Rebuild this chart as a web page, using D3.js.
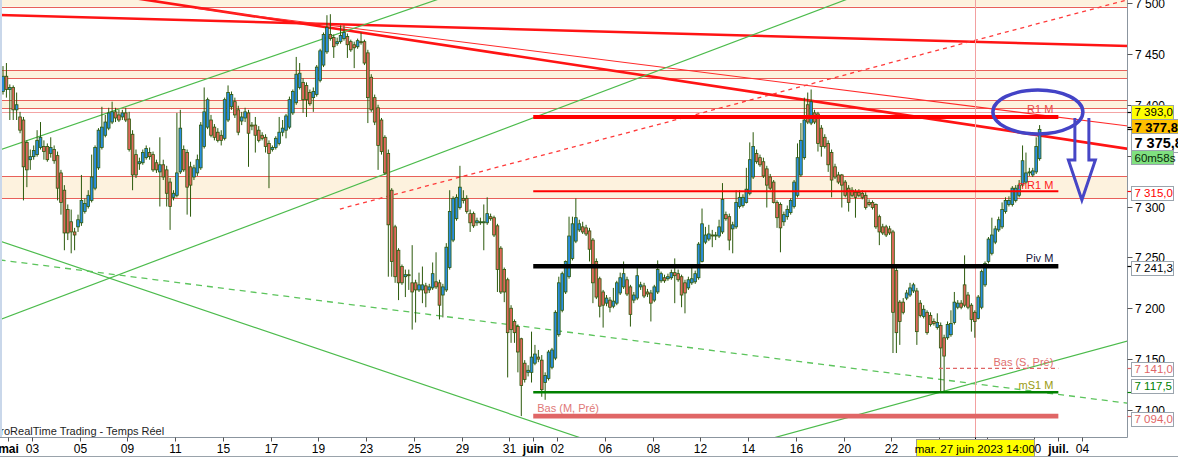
<!DOCTYPE html>
<html><head><meta charset="utf-8">
<script src="https://cdn.jsdelivr.net/npm/d3@7/dist/d3.min.js"></script>
<style>
html,body{margin:0;padding:0;background:#fff;overflow:hidden}
svg{display:block;font-family:"Liberation Sans",Arial,sans-serif}
</style></head><body>
<svg id="chart" width="1178" height="457"></svg>
<script>
// ---------- DATA ----------
// bars: [open, high, low, close]
const ohlc = [
[7413,7438,7410,7428],[7428,7441,7407,7415],[7415,7420,7385,7417],[7417,7419,7385,7395],[7395,7412,7385,7400],
[7388,7393,7372,7375],[7385,7388,7306,7339],[7363,7365,7319,7336],[7346,7356,7336,7349],[7349,7360,7346,7355],
[7351,7375,7349,7365],[7358,7383,7356,7368],[7359,7365,7346,7354],[7359,7362,7344,7346],[7352,7368,7348,7358],
[7356,7360,7342,7345],[7350,7354,7306,7318],[7333,7336,7292,7304],[7316,7321,7257,7274],[7297,7302,7267,7274],
[7285,7297,7254,7275],[7275,7279,7257,7272],[7280,7292,7275,7287],[7284,7331,7281,7306],[7295,7308,7293,7303],
[7300,7316,7298,7311],[7306,7351,7304,7329],[7318,7360,7316,7358],[7338,7377,7336,7375],[7358,7398,7356,7378],
[7370,7390,7368,7383],[7377,7397,7375,7392],[7383,7403,7381,7393],[7393,7397,7383,7387],[7390,7395,7383,7385],
[7388,7395,7385,7392],[7392,7397,7383,7385],[7386,7393,7354,7356],[7371,7375,7316,7331],[7351,7356,7328,7331],
[7342,7348,7336,7344],[7343,7356,7341,7353],[7348,7360,7346,7357],[7353,7358,7346,7349],[7351,7354,7334,7336],
[7343,7346,7333,7336],[7334,7368,7300,7341],[7341,7346,7326,7329],[7336,7340,7300,7313],[7324,7328,7277,7300],
[7309,7316,7306,7313],[7311,7392,7309,7333],[7334,7395,7332,7377],[7356,7360,7334,7336],[7353,7356,7292,7319],
[7339,7344,7290,7321],[7329,7341,7326,7338],[7333,7351,7330,7346],[7338,7383,7336,7380],[7359,7417,7357,7393],
[7378,7407,7376,7405],[7385,7390,7368,7370],[7378,7381,7365,7368],[7373,7377,7363,7365],[7370,7375,7360,7365],
[7367,7407,7365,7405],[7385,7419,7383,7412],[7398,7413,7395,7410],[7403,7407,7387,7390],[7395,7399,7370,7373],
[7384,7393,7380,7388],[7387,7397,7383,7393],[7392,7395,7339,7372],[7380,7383,7375,7379],[7380,7388,7353,7370],
[7375,7379,7363,7365],[7370,7373,7365,7367],[7368,7371,7353,7359],[7362,7365,7318,7352],[7356,7360,7354,7358],
[7358,7369,7356,7367],[7362,7388,7360,7373],[7373,7385,7369,7377],[7375,7391,7367,7389],[7378,7408,7376,7405],
[7392,7415,7390,7413],[7402,7447,7400,7430],[7417,7441,7415,7431],[7422,7426,7392,7405],[7419,7422,7388,7405],
[7412,7415,7399,7401],[7407,7417,7393,7413],[7410,7439,7408,7437],[7424,7455,7422,7453],[7439,7471,7437,7469],
[7452,7488,7450,7476],[7469,7489,7463,7465],[7466,7469,7446,7457],[7460,7466,7458,7462],[7462,7478,7460,7468],
[7465,7478,7463,7471],[7467,7470,7446,7459],[7462,7464,7452,7454],[7459,7462,7436,7456],[7457,7465,7455,7463],
[7462,7471,7459,7461],[7462,7464,7439,7441],[7451,7454,7382,7407],[7427,7430,7393,7395],[7407,7410,7380,7383],
[7397,7400,7336,7360],[7385,7387,7351,7354],[7368,7370,7331,7333],[7352,7356,7231,7282],[7316,7318,7231,7246],
[7280,7282,7225,7231],[7257,7259,7208,7225],[7241,7243,7223,7225],[7231,7238,7211,7233],[7233,7238,7218,7232],
[7225,7262,7179,7216],[7225,7228,7186,7218],[7218,7235,7216,7223],[7218,7241,7205,7223],[7222,7225,7201,7215],
[7218,7224,7215,7221],[7220,7245,7218,7234],[7226,7255,7219,7221],[7225,7228,7189,7203],[7213,7224,7191,7221],
[7218,7264,7216,7260],[7240,7316,7238,7295],[7267,7310,7265,7308],[7288,7312,7286,7309],[7299,7340,7297,7319],
[7308,7316,7303,7306],[7308,7311,7293,7295],[7293,7297,7275,7284],[7293,7295,7279,7281],[7284,7289,7281,7286],
[7285,7289,7282,7285],[7284,7302,7257,7285],[7284,7309,7282,7293],[7290,7293,7286,7288],[7289,7291,7270,7272],
[7281,7283,7216,7238],[7259,7261,7214,7216],[7238,7240,7206,7216],[7228,7230,7132,7176],[7200,7203,7166,7179],
[7187,7189,7166,7176],[7182,7184,7137,7157],[7170,7171,7094,7124],[7146,7149,7127,7130],[7137,7144,7133,7139],
[7137,7177,7127,7152],[7146,7164,7144,7155],[7152,7159,7147,7150],[7149,7154,7113,7120],[7127,7137,7110,7134],
[7131,7159,7129,7157],[7142,7161,7140,7159],[7151,7198,7149,7196],[7174,7231,7172,7225],[7198,7236,7196,7234],
[7216,7247,7214,7246],[7231,7290,7229,7271],[7249,7290,7247,7283],[7266,7308,7264,7289],[7277,7287,7275,7283],
[7280,7285,7273,7275],[7279,7282,7271,7273],[7276,7279,7246,7258],[7267,7269,7205,7225],[7246,7249,7209,7211],
[7229,7231,7191,7202],[7216,7218,7181,7203],[7205,7213,7202,7210],[7208,7211,7196,7201],[7202,7220,7200,7207],
[7205,7227,7203,7225],[7215,7235,7213,7230],[7221,7246,7219,7234],[7228,7231,7212,7214],[7221,7223,7182,7194],
[7208,7216,7205,7213],[7210,7240,7208,7232],[7221,7226,7218,7223],[7222,7225,7210,7212],[7216,7219,7211,7214],
[7215,7218,7187,7205],[7208,7223,7206,7221],[7216,7247,7214,7238],[7227,7236,7225,7234],[7230,7233,7225,7227],
[7229,7234,7227,7231],[7230,7238,7228,7235],[7235,7249,7205,7232],[7234,7238,7226,7228],[7231,7233,7201,7213],
[7225,7228,7195,7215],[7220,7231,7218,7228],[7225,7240,7223,7229],[7226,7237,7224,7234],[7230,7265,7228,7263],
[7246,7298,7245,7283],[7265,7280,7263,7272],[7268,7282,7266,7273],[7272,7277,7260,7271],[7271,7275,7267,7272],
[7271,7287,7269,7280],[7275,7323,7273,7307],[7292,7295,7286,7288],[7290,7293,7257,7267],[7278,7285,7254,7282],
[7280,7316,7278,7304],[7300,7316,7298,7309],[7301,7312,7299,7309],[7304,7338,7303,7317],[7313,7363,7311,7346],
[7329,7373,7327,7359],[7352,7356,7342,7344],[7348,7351,7339,7341],[7344,7348,7328,7330],[7337,7340,7299,7321],
[7329,7332,7316,7318],[7324,7326,7303,7304],[7304,7306,7279,7289],[7302,7304,7255,7279],[7285,7295,7281,7292],
[7290,7301,7287,7297],[7294,7308,7292,7306],[7300,7326,7298,7324],[7311,7362,7309,7348],[7331,7382,7329,7365],
[7348,7407,7346,7385],[7400,7412,7381,7383],[7382,7415,7380,7403],[7392,7395,7381,7383],[7391,7393,7354,7362],
[7377,7380,7349,7359],[7368,7371,7357,7359],[7362,7365,7334,7341],[7353,7356,7309,7326],[7339,7342,7327,7329],
[7331,7334,7322,7324],[7331,7332,7299,7321],[7324,7326,7309,7311],[7318,7321,7295,7304],[7316,7319,7309,7311],
[7314,7317,7289,7309],[7314,7317,7309,7311],[7313,7316,7307,7309],[7311,7314,7297,7299],[7304,7307,7300,7302],
[7304,7306,7297,7299],[7302,7303,7278,7280],[7290,7292,7262,7275],[7280,7283,7272,7274],[7280,7282,7270,7272],
[7278,7281,7272,7274],[7275,7277,7156,7196],[7237,7240,7156,7176],[7206,7208,7164,7187],[7206,7210,7194,7196],
[7210,7218,7208,7215],[7213,7225,7211,7220],[7217,7225,7215,7223],[7217,7220,7164,7177],[7205,7208,7191,7193],
[7192,7203,7190,7199],[7196,7198,7174,7176],[7193,7196,7182,7184],[7187,7190,7183,7185],[7181,7195,7179,7186],
[7183,7186,7117,7161],[7171,7174,7117,7153],[7171,7187,7169,7184],[7174,7198,7172,7185],[7186,7216,7184,7206],
[7201,7208,7199,7205],[7205,7208,7199,7201],[7223,7252,7201,7203],[7213,7216,7199,7201],[7203,7205,7177,7189],
[7196,7198,7171,7187],[7190,7213,7189,7211],[7201,7238,7199,7236],[7223,7246,7221,7244],[7246,7270,7244,7268],
[7254,7289,7252,7272],[7265,7281,7263,7278],[7277,7290,7275,7287],[7280,7304,7278,7297],[7295,7309,7293,7306],
[7302,7310,7300,7306],[7302,7320,7300,7318],[7306,7321,7304,7318],[7311,7326,7309,7321],[7321,7360,7319,7345],
[7324,7353,7322,7333],[7333,7338,7330,7334],[7331,7338,7329,7335],[7334,7368,7332,7359],[7347,7380,7345,7375.8]
];
const priceTicks = [7100,7150,7200,7250,7300,7350,7400,7450,7500];
const dayTickBars = [2,9,23,37,51,65,79,93,107,121,135,149,156,163,177,191,205,219,233,247,261,275,289,303,310,317];
const dayTickLabels = ["mai","03","05","09","11","15","17","19","23","25","29","31","juin","02","06","08","12","14","16","20","22","26","28","30","juil.","04"];
const monthLabels = ["mai","juin","juil."];
// shaded zones (top, bottom) and their border lines
const zoneTops = [7515,7433.9,7404.7,7329.7];
const zoneBottoms = [7496.4,7426.0,7396.5,7308.1];
const zoneLineValues = [7496.4,7433.9,7426.0,7404.7,7396.5,7392.6,7329.7,7308.1];
// monthly pivot levels
const levelNames = ["R1 M","mR1 M","Piv M","Bas (S, Pré)","mS1 M","Bas (M, Pré)"];
const levelValues = [7388.0,7315.0,7241.3,7141.0,7117.5,7094.0];
const levelStartBars = [156,156,156,275,156,156];
const levelEndBars = [310,310,310,310,310,310];
// trend lines: [bar, price] start / end
const trendStarts = [[-1,7488.2],[0,7524.4],[56.3,7494.8],[-1,7355.4],[-1,7188.7],[-1,7266.2],[-1,7247.5],[215,7062.5],[98.8,7297.5]];
const trendEnds   = [[330,7457.7],[330,7356.6],[330,7379.1],[135,7512.2],[260,7519.5],[170,7071.9],[330,7106.6],[330,7168.1],[330,7503.3]];
// right-hand price tags
const tagTexts  = ["7 393,0","7 377,8","7 375,8","60m58s","7 315,0","7 241,3","7 141,0","7 117,5","7 094,0"];
const tagValues = [7393.0,7377.8,7375.8,7375.8,7315.0,7241.3,7141.0,7117.5,7094.0];
const cursorBar = 285;
const cursorLabel = "mar. 27 juin 2023 14:00";
const ellipseBars = [290.3,316.7], ellipsePrices = [7414.5,7371.3];
const arrowBar = 316.4, arrowPrices = [7387,7345.7,7306.4];
const footerText = "ProRealTime Trading - Temps Réel";

// ---------- STYLES ----------
const trendStyles = [
  {c:"#ff1414",w:2.6},{c:"#ff1414",w:2.6},{c:"#ff2a2a",w:1.1},
  {c:"#4cbb4c",w:1.2},{c:"#4cbb4c",w:1.2},{c:"#4cbb4c",w:1.2},
  {c:"#5cc45c",w:1.3,d:"6,5"},{c:"#4cbb4c",w:1.2},{c:"#ff3a3a",w:1.3,d:"4,4"}
];
const levelStyles = [
  {c:"#ff0000",w:4,t:"#e84a4a",a:"end"},
  {c:"#ff0000",w:2.2,t:"#ff2020",a:"end"},
  {c:"#000000",w:4.5,t:"#14143a",a:"end"},
  {c:"#e06666",w:1.2,t:"#e07070",a:"end",d:"4,3"},
  {c:"#008000",w:2.6,t:"#9a9a10",a:"end"},
  {c:"#e06666",w:4.6,t:"#e07878",a:"start"}
];
const tagStyles = [
  {f:"#ffff00",t:"#000",dy:0,fs:11.5,b:false,w:42,h:14},
  {f:"#ffc000",t:"#000",dy:0,fs:13,b:true,w:60,h:17},
  {f:"#ffffff",t:"#000",dy:13,fs:14.5,b:true,w:60,h:19},
  {f:"#80e080",t:"#0a2a0a",dy:28,fs:11.5,b:false,w:42,h:14},
  {f:"#ffffff",t:"#ff0000",dy:1.5,fs:11.5,b:false,w:42,h:14},
  {f:"#ffffff",t:"#000000",dy:1.5,fs:11.5,b:false,w:42,h:14},
  {f:"#ffffff",t:"#e06666",dy:1,fs:11.5,b:false,w:42,h:14},
  {f:"#ffffff",t:"#008000",dy:-6.5,fs:11.5,b:false,w:42,h:14},
  {f:"#ffffff",t:"#e06666",dy:2.5,fs:11.5,b:false,w:42,h:14}
];

// ---------- CHART ----------
const svg = d3.select("#chart");
const PR = 1127.5, PB = 437.5;
const x = d3.scaleLinear().domain([0, ohlc.length - 1]).range([3, 1039.6]);
const y = d3.scaleLinear().domain([7100, 7500]).range([410, 3]);
const xt = b => x(b - 0.5);

const defs = svg.append("defs");
defs.append("clipPath").attr("id","clip")
  .append("rect").attr("x",0).attr("y",0).attr("width",PR).attr("height",PB);
const plot = svg.append("g").attr("clip-path","url(#clip)");

// zones
plot.selectAll("rect.zone").data(zoneTops).join("rect").attr("class","zone")
  .attr("x",0).attr("width",PR)
  .attr("y",(d,i)=>y(d)).attr("height",(d,i)=>y(zoneBottoms[i])-y(d))
  .attr("fill","#fdf2de");
plot.selectAll("line.zl").data(zoneLineValues).join("line").attr("class","zl")
  .attr("x1",0).attr("x2",PR)
  .attr("y1",d=>Math.round(y(d))+0.5).attr("y2",d=>Math.round(y(d))+0.5)
  .attr("stroke",d=>d===7392.6?"#f4a4a4":"#e8605a").attr("stroke-width",1);

// trend lines
plot.selectAll("line.tr").data(trendStarts).join("line").attr("class","tr")
  .attr("x1",d=>x(d[0])).attr("y1",d=>y(d[1]))
  .attr("x2",(d,i)=>x(trendEnds[i][0])).attr("y2",(d,i)=>y(trendEnds[i][1]))
  .attr("stroke",(d,i)=>trendStyles[i].c).attr("stroke-width",(d,i)=>trendStyles[i].w)
  .attr("stroke-dasharray",(d,i)=>trendStyles[i].d||null);

// cursor
plot.append("line").attr("x1",Math.round(x(cursorBar))+0.5).attr("x2",Math.round(x(cursorBar))+0.5)
  .attr("y1",0).attr("y2",PB).attr("stroke","#f2a0a0").attr("stroke-width",1);

// candles
const gC = plot.append("g");
gC.selectAll("line.wk").data(ohlc).join("line").attr("class","wk")
  .attr("x1",(d,i)=>x(i)).attr("x2",(d,i)=>x(i))
  .attr("y1",d=>y(Math.max(d[1],d[0],d[3]))).attr("y2",d=>y(Math.min(d[2],d[0],d[3])))
  .attr("stroke","#2c5a0c").attr("stroke-width",1);
gC.selectAll("rect.bd").data(ohlc).join("rect").attr("class","bd")
  .attr("x",(d,i)=>x(i)-1.35).attr("width",2.7)
  .attr("y",d=>y(Math.max(d[0],d[3])))
  .attr("height",d=>Math.max(1,Math.abs(y(d[0])-y(d[3]))))
  .attr("fill",d=>d[3]>=d[0]?"#2a8ee0":"#e0685c")
  .attr("stroke","#2c5a0c").attr("stroke-width",0.8);

// levels
const gL = plot.append("g");
levelValues.forEach((v,i)=>{
  const s = levelStyles[i], yy = y(v);
  gL.append("line").attr("x1",xt(levelStartBars[i])).attr("x2",xt(levelEndBars[i]))
    .attr("y1",yy).attr("y2",yy).attr("stroke",s.c).attr("stroke-width",s.w)
    .attr("stroke-dasharray",s.d||null);
  gL.append("text").attr("x", s.a==="end" ? xt(levelEndBars[i])-5 : xt(levelStartBars[i])+4)
    .attr("y", yy - s.w/2 - 1.5).attr("text-anchor",s.a)
    .attr("font-size",11).attr("fill",s.t).text(levelNames[i]);
});

// annotation ellipse + arrow
const ex0 = x(ellipseBars[0]), ex1 = x(ellipseBars[1]), ey0 = y(ellipsePrices[0]), ey1 = y(ellipsePrices[1]);
plot.append("ellipse").attr("cx",(ex0+ex1)/2).attr("cy",(ey0+ey1)/2)
  .attr("rx",(ex1-ex0)/2).attr("ry",(ey1-ey0)/2)
  .attr("fill","none").attr("stroke","#4343c6").attr("stroke-width",3.5);
const ax = x(arrowBar), aT = y(arrowPrices[0]), aB = y(arrowPrices[1]), aTip = y(arrowPrices[2]);
plot.append("path")
  .attr("d",`M${ax-7},${aT} L${ax-7},${aB} L${ax-13.5},${aB} L${ax},${aTip} L${ax+13.5},${aB} L${ax+7},${aB} L${ax+7},${aT}`)
  .attr("fill","none").attr("stroke","#4646c6").attr("stroke-width",3).attr("stroke-linejoin","miter");

// footer text
svg.append("text").attr("x",-7).attr("y",435).attr("font-size",11).attr("fill","#1e1e1e").text(footerText);

// frame
svg.append("rect").attr("x",0).attr("y",0).attr("width",2).attr("height",PB).attr("fill","#c9d7ea");
svg.append("line").attr("x1",0).attr("x2",PR).attr("y1",PB).attr("y2",PB).attr("stroke","#8b959f");
svg.append("line").attr("x1",PR).attr("x2",PR).attr("y1",0).attr("y2",PB).attr("stroke","#8b959f");
svg.append("line").attr("x1",0).attr("x2",1178).attr("y1",456.5).attr("y2",456.5).attr("stroke","#9aa3ab");

// right axis
const fmt = v => `${Math.floor(v/1000)} ${String(v%1000).padStart(3,"0")}`;
const gY = svg.append("g");
priceTicks.forEach(v=>{
  const yy = Math.round(y(v))+0.5;
  gY.append("line").attr("x1",PR).attr("x2",PR+5).attr("y1",yy).attr("y2",yy).attr("stroke","#555");
  gY.append("text").attr("x",1135).attr("y",yy+4.5).attr("font-size",12).attr("fill","#000").text(fmt(v));
});

// price tags
tagTexts.forEach((t,i)=>{
  const s = tagStyles[i], yv = y(tagValues[i]), cy = yv + s.dy;
  if (i !== 3) gY.append("line").attr("x1",PR).attr("x2",PR+5).attr("y1",Math.round(yv)+0.5).attr("y2",Math.round(yv)+0.5)
    .attr("stroke",s.t==="#000"||s.t==="#000000"?"#000":s.t).attr("stroke-width",1.2);
  gY.append("rect").attr("x",1131.5).attr("y",Math.round(cy - s.h/2)+0.5).attr("width",s.w).attr("height",s.h)
    .attr("fill",s.f).attr("stroke","#9aa4ad").attr("stroke-width",1);
  gY.append("text").attr("x",1134.5).attr("y",cy + s.fs*0.36).attr("font-size",s.fs)
    .attr("font-weight",s.b?"bold":null).attr("fill",s.t).text(t);
});

// bottom axis
const cx = x(cursorBar);
const boxL = Math.round(cx-59)+0.5, boxR = boxL + 118;
const gX = svg.append("g");
dayTickBars.forEach((b,i)=>{
  const xx = Math.round(xt(b))+0.5;
  gX.append("line").attr("x1",xx).attr("x2",xx).attr("y1",PB).attr("y2",PB+4).attr("stroke","#555");
  if (xx - 6 > boxL && xx + 6 < boxR) return; // fully hidden under the cursor date box
  const isM = monthLabels.includes(dayTickLabels[i]);
  gX.append("text").attr("x",xx).attr("y",453).attr("text-anchor","middle")
    .attr("font-size",12).attr("font-weight",isM?"bold":null).attr("fill","#000").text(dayTickLabels[i]);
});
gX.append("line").attr("x1",Math.round(cx)+0.5).attr("x2",Math.round(cx)+0.5).attr("y1",PB).attr("y2",PB+4).attr("stroke","#000");
gX.append("rect").attr("x",boxL).attr("y",439.5).attr("width",118).attr("height",17)
  .attr("fill","#ffff00").attr("stroke","#9a9a9a");
gX.append("text").attr("x",cx).attr("y",453).attr("text-anchor","middle").attr("font-size",11.5)
  .attr("fill","#000").text(cursorLabel);
</script>
</body></html>
